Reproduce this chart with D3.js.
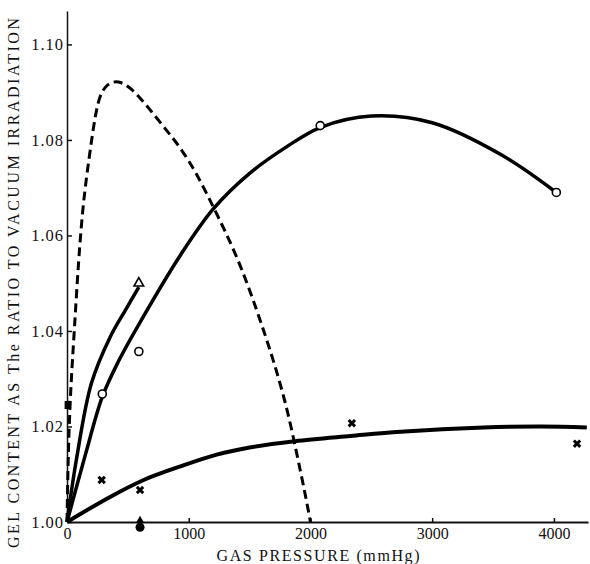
<!DOCTYPE html>
<html lang="en">
<head>
<meta charset="UTF-8">
<title>Gel content vs gas pressure</title>
<script src="https://d3js.org/d3.v7.min.js"></script>
<style>
  body { margin: 0; background: #fff; }
  text { font-family: "Liberation Serif", "DejaVu Serif", serif; fill: #111; }
</style>
</head>
<body>
<svg class="chart"></svg>
<script>
// curve data (pressure mmHg, gel ratio)
const dashedCurve = [[0,1.000],[10,1.015],[30,1.028],[60,1.040],[95,1.055],[134,1.0672],[183,1.0765],[230,1.0850],[270,1.0895],[330,1.0918],[420,1.0925],[530,1.0909],[655,1.0872],[790,1.0829],[930,1.0785],[1065,1.0730],[1200,1.0661],[1400,1.0556],[1560,1.0444],[1695,1.0340],[1805,1.0242],[1887,1.0144],[1956,1.0060],[2000,1.000]];
const circleCurve = [[0,1.000],[150,1.0140],[290,1.0262],[420,1.0335],[600,1.0418],[930,1.0558],[1200,1.0655],[1500,1.0730],[1800,1.0785],[2080,1.0826],[2500,1.0850],[3000,1.0836],[3560,1.0770],[4020,1.0690]];
const triangleCurve = [[0,1.000],[80,1.0135],[200,1.0290],[350,1.0385],[490,1.0448],[590,1.0492]];
const crossCurve = [[0,1.000],[350,1.0052],[630,1.0088],[950,1.0118],[1230,1.0141],[1500,1.0156],[1870,1.0169],[2330,1.0180],[2740,1.0189],[3420,1.0198],[3900,1.0200],[4270,1.0198]];

// measured points
const circlePts = [[290,1.0268],[590,1.0357],[2080,1.0830],[4020,1.0690]];
const trianglePts = [[590,1.0500]];
const crossPts = [[285,1.0088],[600,1.0067],[2340,1.0207],[4190,1.0164]];
const filledPts = [[600,0.9989]];
const filledTriPts = [[600,1.0003]];
const squarePts = [[5,1.0245]];

const xTicks = [0, 1000, 2000, 3000, 4000];
const yTicks = [1.00, 1.02, 1.04, 1.06, 1.08, 1.10];
const xTitle = "GAS  PRESSURE (mmHg)";
const yTitle = "GEL  CONTENT  AS  The  RATIO  TO  VACUUM  IRRADIATION";

const width = 590, height = 564;
const svg = d3.select('.chart').attr('width', width).attr('height', height);

const x = d3.scaleLinear().domain([0, 4280]).range([67, 588]);
const y = d3.scaleLinear().domain([1.0, 1.107]).range([522, 11]);

// axes
const xAxis = svg.append('g')
  .attr('transform', `translate(0,${y(1.0)})`)
  .call(d3.axisBottom(x).tickValues(xTicks).tickFormat(d3.format('d'))
    .tickSizeInner(-4).tickSizeOuter(0).tickPadding(6));
xAxis.select('.domain').attr('stroke', '#111').attr('stroke-width', 2);
xAxis.selectAll('.tick line').attr('stroke', '#111').attr('stroke-width', 1.5);
xAxis.selectAll('.tick text').attr('font-size', 16).attr('font-family', '"Liberation Serif", serif').attr('fill', '#111');

const yAxis = svg.append('g')
  .attr('transform', `translate(${x(0)},0)`)
  .call(d3.axisLeft(y).tickValues(yTicks).tickFormat(d3.format('.2f'))
    .tickSizeInner(-5).tickSizeOuter(0).tickPadding(3));
yAxis.select('.domain').attr('stroke', '#111').attr('stroke-width', 1.5);
yAxis.selectAll('.tick line').attr('stroke', '#111').attr('stroke-width', 1.5);
yAxis.selectAll('.tick text').attr('font-size', 16.5).attr('font-family', '"Liberation Serif", serif')
  .attr('fill', '#111').attr('letter-spacing', 1);

// titles
svg.append('text')
  .attr('x', 318).attr('y', 561)
  .attr('text-anchor', 'middle')
  .attr('font-size', 16)
  .attr('textLength', 203).attr('lengthAdjust', 'spacing')
  .text(xTitle);

svg.append('text')
  .attr('transform', 'translate(19,283) rotate(-90)')
  .attr('text-anchor', 'middle')
  .attr('font-size', 16)
  .attr('textLength', 530).attr('lengthAdjust', 'spacing')
  .text(yTitle);

// curves
const smooth = d3.line().x(d => x(d[0])).y(d => y(d[1])).curve(d3.curveCatmullRom.alpha(0.5));
const basis = d3.line().x(d => x(d[0])).y(d => y(d[1])).curve(d3.curveBasis);

svg.append('path').datum(crossCurve)
  .attr('d', smooth).attr('fill', 'none').attr('stroke', '#000').attr('stroke-width', 4);
svg.append('path').datum(circleCurve)
  .attr('d', smooth).attr('fill', 'none').attr('stroke', '#000').attr('stroke-width', 3.5);
svg.append('path').datum(triangleCurve)
  .attr('d', smooth).attr('fill', 'none').attr('stroke', '#000').attr('stroke-width', 3.5);
svg.append('path').datum(dashedCurve)
  .attr('d', basis).attr('fill', 'none').attr('stroke', '#000').attr('stroke-width', 3)
  .attr('stroke-dasharray', '9,5');

// markers
svg.selectAll('circle.open').data(circlePts).enter().append('circle')
  .attr('class', 'open')
  .attr('cx', d => x(d[0])).attr('cy', d => y(d[1])).attr('r', 4)
  .attr('fill', '#fff').attr('stroke', '#000').attr('stroke-width', 1.6);

svg.selectAll('path.tri').data(trianglePts).enter().append('path')
  .attr('class', 'tri')
  .attr('transform', d => `translate(${x(d[0])},${y(d[1])})`)
  .attr('d', d3.symbol(d3.symbolTriangle, 40)())
  .attr('fill', '#fff').attr('stroke', '#000').attr('stroke-width', 1.6);

svg.selectAll('path.cross').data(crossPts).enter().append('path')
  .attr('class', 'cross')
  .attr('transform', d => `translate(${x(d[0])},${y(d[1])}) rotate(45)`)
  .attr('d', d3.symbol(d3.symbolCross, 45)())
  .attr('fill', '#000');

svg.selectAll('circle.filled').data(filledPts).enter().append('circle')
  .attr('class', 'filled')
  .attr('cx', d => x(d[0])).attr('cy', d => y(d[1])).attr('r', 4.5)
  .attr('fill', '#000');

svg.selectAll('path.ftri').data(filledTriPts).enter().append('path')
  .attr('class', 'ftri')
  .attr('transform', d => `translate(${x(d[0])},${y(d[1])})`)
  .attr('d', d3.symbol(d3.symbolTriangle, 30)())
  .attr('fill', '#000');

svg.selectAll('rect.sq').data(squarePts).enter().append('rect')
  .attr('class', 'sq')
  .attr('x', d => x(d[0]) - 3).attr('y', d => y(d[1]) - 4)
  .attr('width', 6).attr('height', 8)
  .attr('fill', '#000');
</script>
</body>
</html>
